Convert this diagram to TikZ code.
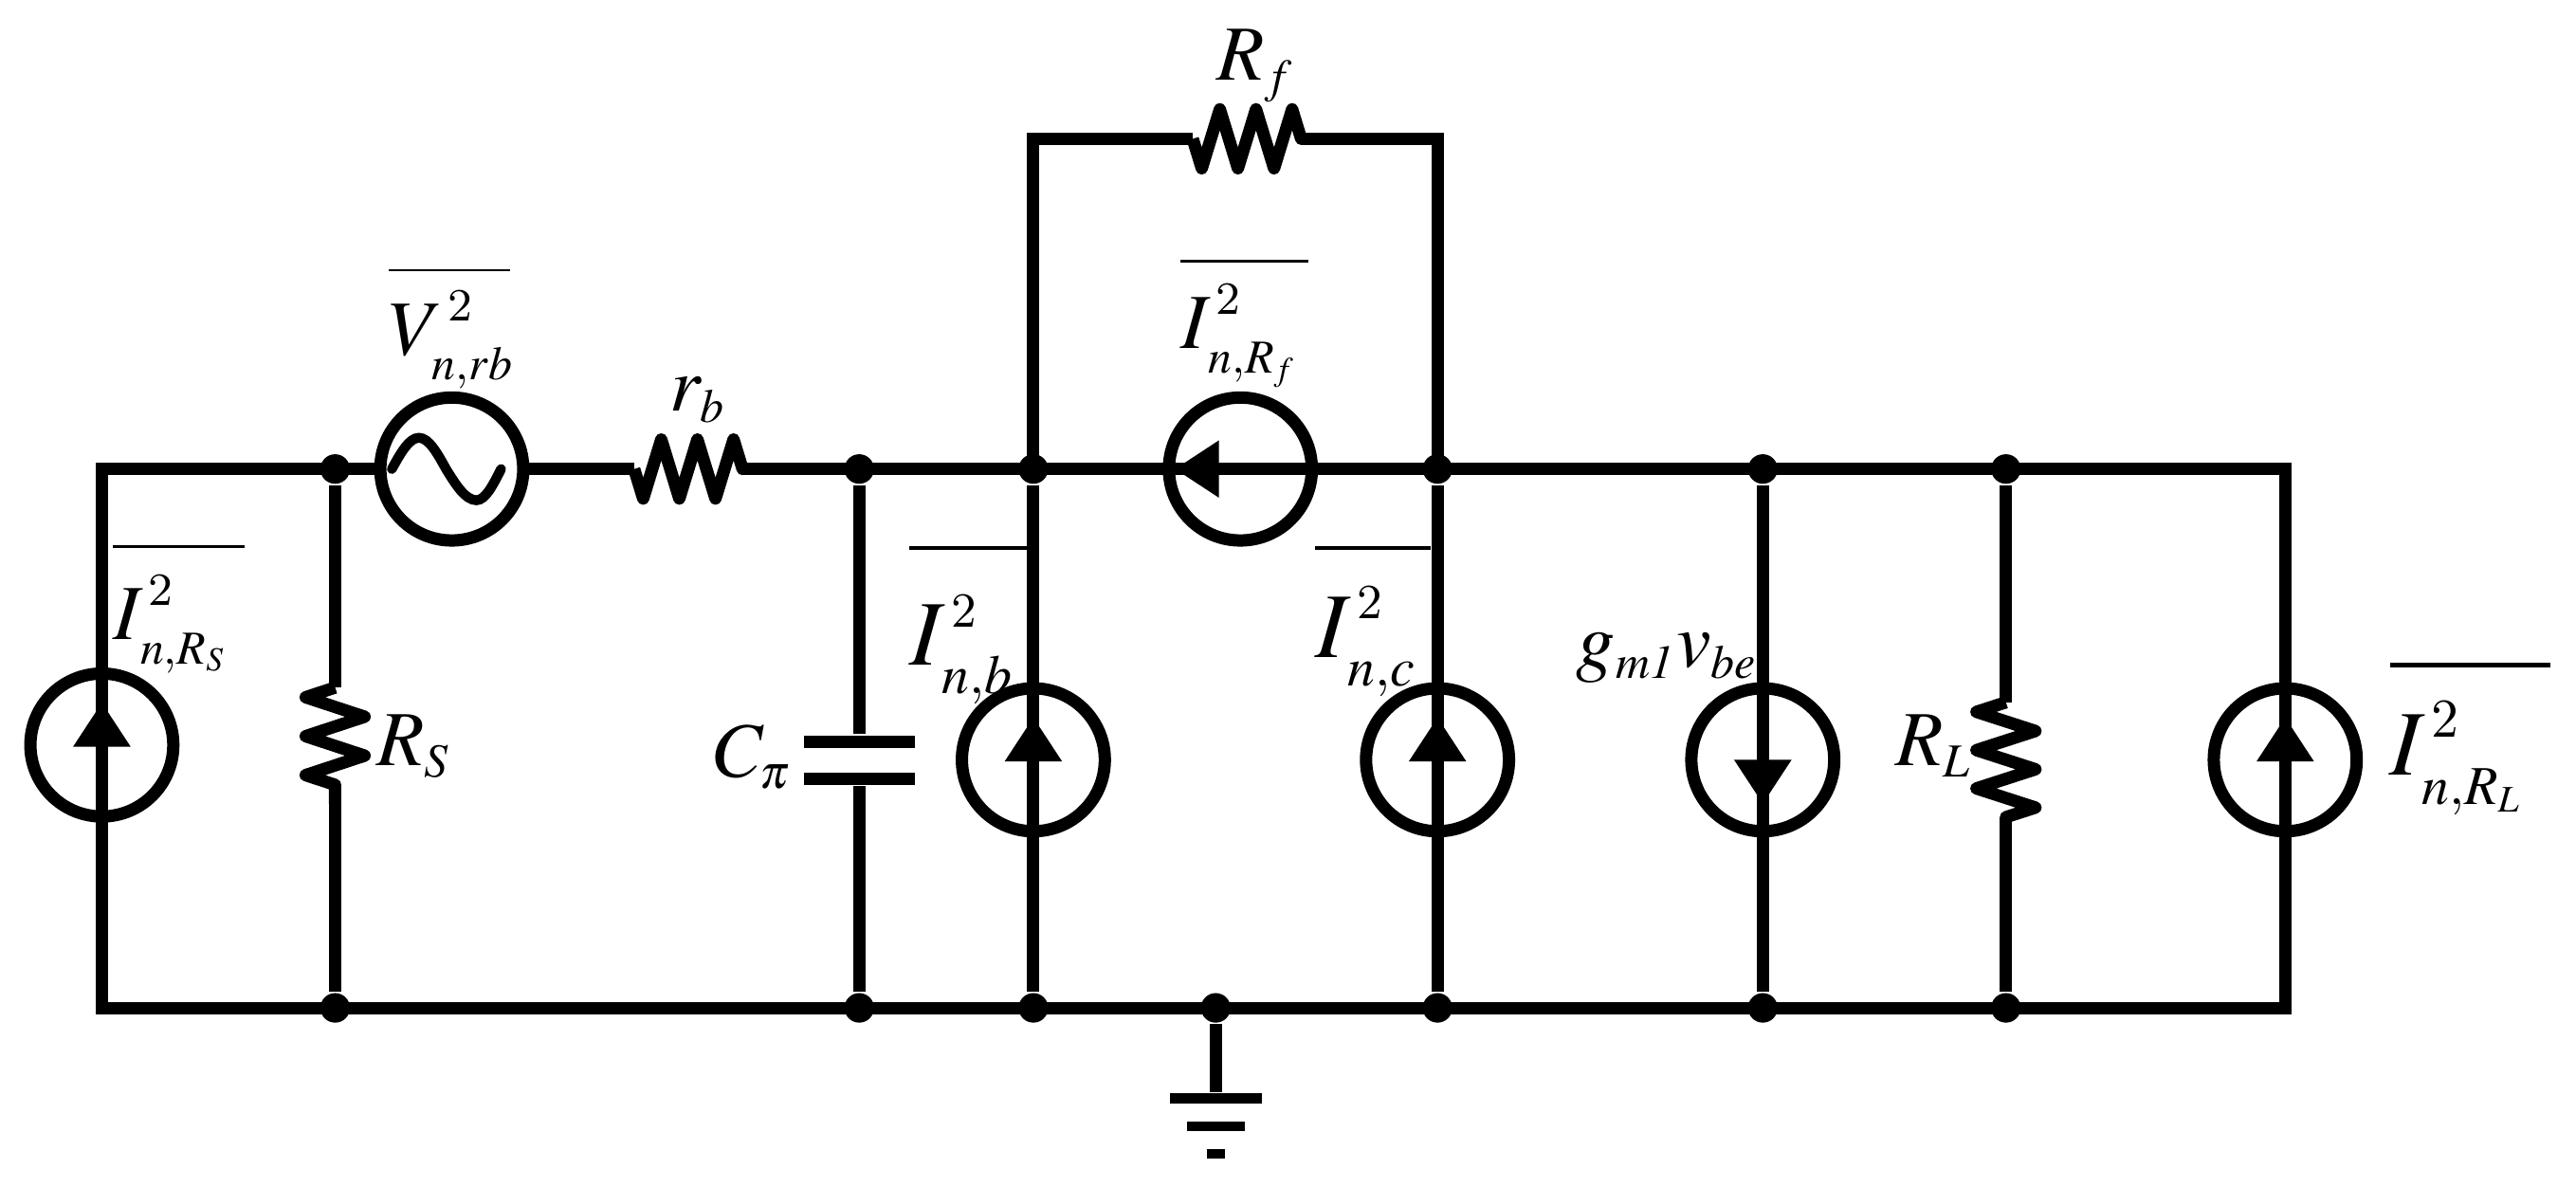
\documentclass[tikz,border=0pt]{standalone}
\usepackage{mathptmx}
\usetikzlibrary{positioning}
\usetikzlibrary{arrows.meta,decorations.pathmorphing}
\DeclareMathSizes{13.5}{13.5}{8.2}{5.8}
\DeclareMathSizes{16}{16}{9.5}{6.5}
\newcommand{\barlab}[3]{$\global\fontdimen8\textfont3=#2\relax\overline{\rule{0pt}{#1}#3}$}
\newcommand{\noisy}[4]{#1^{\,\raisebox{2pt}{\fontsize{#2}{#2}\selectfont 2}}_{\kern.6pt\raisebox{-1pt}{$\scriptstyle #3$}\kern#4}}
\tikzset{
  wire/.style={line width=.075cm,line join=miter},
  dot/.style={circle,fill=black,inner sep=0pt,minimum size=.18cm},
  source/.style={circle,draw,line width=.075cm,inner sep=0pt,minimum size=.87cm},
  srctip/.style={-{Triangle[length=.27cm,width=.33cm]},line width=.075cm},
  res/.style={wire,line join=round,decorate,decoration={zigzag,amplitude=-.18cm,segment length=#1}},
  res/.default=.22cm,
  plate/.style={fill=black,inner sep=0pt,minimum width=.675cm,minimum height=.077cm},
  lab/.style={anchor=base west,inner sep=0pt,font=\fontsize{13.5}{16}\selectfont},
  biglab/.style={lab,font=\fontsize{16}{19}\selectfont},
}
\begin{document}
\begin{tikzpicture}
  \useasboundingbox (0,0) rectangle (15.68,-7.225);
  % top rail
  \coordinate (TL) at (0.62,-2.855);
  \node (t1) [dot,node distance=1.42cm,right of=TL] {};
  \node (VS) [source,node distance=.71cm,right of=t1] {};
  \coordinate [node distance=1.11cm,right of=VS] (rb1);
  \coordinate [node distance=.66cm,right of=rb1] (rb2);
  \node (t2) [dot,node distance=.71cm,right of=rb2] {};
  \node (t3) [dot,node distance=1.06cm,right of=t2] {};
  \node (FS) [source,node distance=1.26cm,right of=t3] {};
  \node (t4) [dot,node distance=1.20cm,right of=FS] {};
  \node (t5) [dot,node distance=1.98cm,right of=t4] {};
  \node (t6) [dot,node distance=1.48cm,right of=t5] {};
  \coordinate [node distance=1.70cm,right of=t6] (TR);
  % bottom rail
  \coordinate [node distance=3.28cm,below of=TL] (BL);
  \node (b1) [dot,node distance=3.28cm,below of=t1] {};
  \node (b2) [dot,node distance=3.28cm,below of=t2] {};
  \node (b3) [dot,node distance=3.28cm,below of=t3] {};
  \node (bg) [dot,node distance=1.11cm,right of=b3] {};
  \node (b4) [dot,node distance=3.28cm,below of=t4] {};
  \node (b5) [dot,node distance=3.28cm,below of=t5] {};
  \node (b6) [dot,node distance=3.28cm,below of=t6] {};
  \coordinate [node distance=3.28cm,below of=TR] (BR);
  % feedback
  \coordinate [node distance=2.01cm,above of=t3] (FL);
  \coordinate [node distance=2.01cm,above of=t4] (FR);
  \coordinate [node distance=.97cm,right of=FL] (rf1);
  \coordinate [node distance=.66cm,right of=rf1] (rf2);
  % sources
  \node (S0) [source,node distance=1.68cm,below of=TL] {};
  \node (Sb) [source,node distance=1.77cm,below of=t3] {};
  \node (Sc) [source,node distance=1.77cm,below of=t4] {};
  \node (Sg) [source,node distance=1.77cm,below of=t5] {};
  \node (SL) [source,node distance=1.77cm,below of=TR] {};
  \coordinate [node distance=.26cm,above of=S0] (S0t);
  \coordinate [node distance=.26cm,above of=Sb] (Sbt);
  \coordinate [node distance=.26cm,above of=Sc] (Sct);
  \coordinate [node distance=.27cm,below of=Sg] (Sgt);
  \coordinate [node distance=.26cm,above of=SL] (SLt);
  \coordinate [node distance=.14cm,left of=FS] (FSa);
  \coordinate [node distance=.26cm,left of=FSa] (FSt);
  % resistors and capacitor
  \coordinate [node distance=1.33cm,below of=t1] (rs1);
  \coordinate [node distance=.71cm,below of=rs1] (rs2);
  \coordinate [node distance=1.42cm,below of=t6] (rl1);
  \coordinate [node distance=.70cm,below of=rl1] (rl2);
  \node (c1) [plate,node distance=1.66cm,below of=t2] {};
  \node (c2) [plate,node distance=.225cm,below of=c1] {};
  % ground
  \node (g1) [plate,minimum width=.56cm,minimum height=.06cm,node distance=.55cm,below of=bg] {};
  \node (g2) [plate,minimum width=.35cm,minimum height=.06cm,node distance=.17cm,below of=g1] {};
  \node (g3) [plate,minimum width=.11cm,minimum height=.06cm,node distance=.17cm,below of=g2] {};
  % wiring
  \draw[wire] (S0.center) -- (TL) -- (t1.center) -- (VS);
  \draw[wire] (VS) -- (rb1);
  \draw[res] (rb1) -- (rb2);
  \draw[wire] (rb2) -- (t2.center) -- (t3.center) -- (FS.center) -- (t4.center) -- (t5.center) -- (t6.center) -- (TR) -- (SL.center) -- (BR) -- (b6.center) -- (b5.center) -- (b4.center) -- (bg.center) -- (b3.center) -- (b2.center) -- (b1.center) -- (BL) -- (S0.center);
  \draw[wire] (t3.center) -- (FL) -- (rf1);
  \draw[res] (rf1) -- (rf2);
  \draw[wire] (rf2) -- (FR) -- (t4.center);
  \draw[wire] (t1) -- (rs1);
  \draw[res=.237cm] (rs1) -- (rs2);
  \draw[wire] (rs2) -- (b1);
  \draw[wire] (t2) -- (c1);
  \draw[wire] (c2) -- (b2);
  \draw[wire] (t3) -- (Sb.center) -- (b3);
  \draw[wire] (t4) -- (Sc.center) -- (b4);
  \draw[wire] (t5) -- (Sg.center) -- (b5);
  \draw[wire] (t6) -- (rl1);
  \draw[res=.233cm] (rl1) -- (rl2);
  \draw[wire] (rl2) -- (b6);
  \draw[wire] (bg) -- (g1);
  \draw[srctip] (S0.center) -- (S0t);
  \draw[srctip] (Sb.center) -- (Sbt);
  \draw[srctip] (Sc.center) -- (Sct);
  \draw[srctip] (Sg.center) -- (Sgt);
  \draw[srctip] (SL.center) -- (SLt);
  \draw[srctip] (FSa) -- (FSt);
  % sine of the voltage source
  \coordinate [node distance=.365cm,left of=VS] (v1);
  \draw[wire,line width=.06cm,line cap=round] (v1) sin ++(.165,.19) cos ++(.165,-.19) sin ++(.185,-.19) cos ++(.15,.19);
  % labels
  \node (lVS) [lab] at (2.36,-2.16) {\barlab{.46cm}{.45pt}{\noisy{V}{8}{n,rb}{-.8pt}}};
  \node (lS0) [lab] at (0.68,-3.89) {\barlab{.50cm}{.5pt}{\noisy{I}{8}{n,R_S}{2.8pt}}};
  \node (lFS) [lab] at (7.18,-2.12) {\barlab{.47cm}{.5pt}{\noisy{I}{8}{n,R_f}{1.7pt}}};
  \node (lSb) [biglab] at (5.53,-4.05) {\barlab{.64cm}{.6pt}{\noisy{I}{8.5}{n,b}{2.5pt}}};
  \node (lSc) [biglab] at (8.00,-4.00) {\barlab{.59cm}{.6pt}{\noisy{I}{8.5}{n,c}{2.3pt}}};
  \node (lSL) [biglab] at (14.54,-4.72) {\barlab{.58cm}{.75pt}{\noisy{I}{9.5}{n,R_L}{4.4pt}}};
  \node (lrb) [lab] at (4.07,-2.50) {$r_b$};
  \node (lrf) [lab] at (7.40,-0.49) {$R_f$};
  \node (lrs) [lab] at (2.285,-4.66) {$R_S$};
  \node (lrl) [lab] at (11.53,-4.66) {$R_L$};
  \node (lc) [lab] at (4.34,-4.73) {$C_\pi$};
  \node (lg) [lab] at (9.59,-4.06) {$g_{\mathit{m1}}v_{be}$};
\end{tikzpicture}
\end{document}
